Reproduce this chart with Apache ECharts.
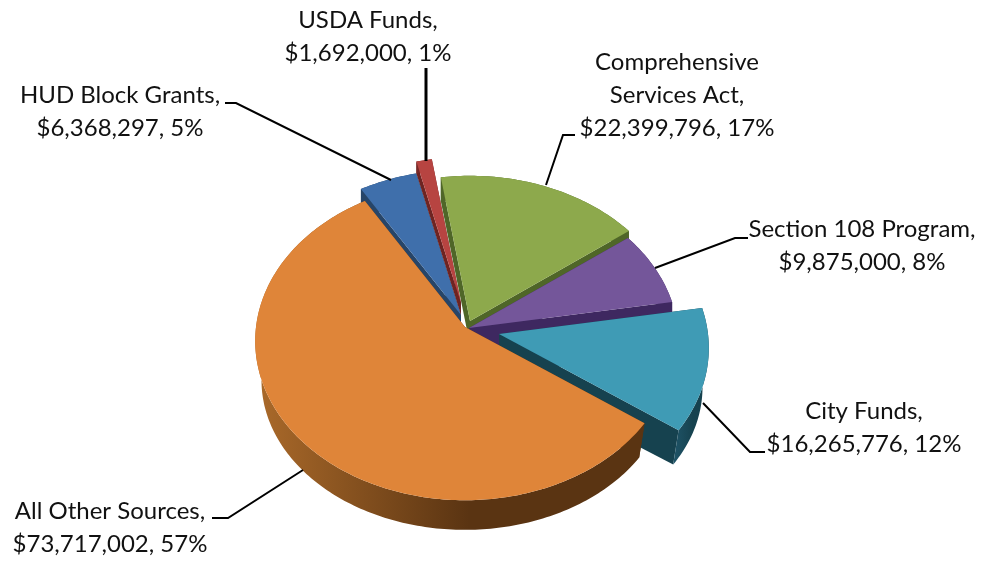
<!DOCTYPE html>
<html><head><meta charset="utf-8">
<script src="https://cdn.jsdelivr.net/npm/echarts@6/dist/echarts.min.js"></script>
<style>html,body{margin:0;padding:0;background:#fff}#c{width:984px;height:561px}</style>
</head><body><div id="c"></div>
<script>
// Data (clockwise from the 12 o'clock-ish start)
const names = ['USDA Funds','Comprehensive Services Act','Section 108 Program','City Funds','All Other Sources','HUD Block Grants'];
const amounts = [1692000,22399796,9875000,16265776,73717002,6368297];
const percents = [1,17,8,12,57,5];
const labelBreaks = [
  'USDA Funds,\n$1,692,000, 1%',
  'Comprehensive\nServices Act,\n$22,399,796, 17%',
  'Section 108 Program,\n$9,875,000, 8%',
  'City Funds,\n$16,265,776, 12%',
  'All Other Sources,\n$73,717,002, 57%',
  'HUD Block Grants,\n$6,368,297, 5%'
];

// Layout and style
const topColors = ['#B74441','#8DA94C','#74569A','#3F9BB5','#DF8539','#3F6FAB'];
const sideColors = [['#7a2a28','#6e2422'],['#4f6628','#4f6628'],['#3e2860','#3e2860'],['#1f5468','#16424f'],['#ab6a2a','#5a3412'],['#274568','#274568']];
const explode = [[-4,-24],[5,-6],[4,1],[34,7],[0,0],[-4,-12]];
const sideDepth = [12,24,32,40,40,30];
const sideScale = [[1,1],[1,1],[1,1],[0.97,0.94],[0.97,0.94],[1,1]];
const paintOrder = [5,0,1,2,3,4].reduce((m,s,i)=>{m[s]=i;return m;},{});
const labelPos = [[368,37],[677,95],[862,246],[864,428],[110,528],[120,112]];
const leaders = [
  [[426,68],[426,161]],
  [[575,135],[563,135],[546,185]],
  [[748,238],[735,238],[655,268]],
  [[765,452],[750,452],[703,403]],
  [[212,518],[228,518],[303,470]],
  [[225,103],[236,103],[391,180]]
];
const leaderWidth = [3,2,2,2,2,2];
const cx = 465, cy = 327, Rx = 209, Ry = 158, persp = 0.088, startDeg = -103.4;

const total = amounts.reduce((a,b)=>a+b,0);
function project(deg, off){
  const a = deg*Math.PI/180, u = Math.cos(a), v = Math.sin(a), w = 1 - persp*v;
  return [cx + off[0] + Rx*u/w, cy + off[1] + Ry*v/w];
}
function renderItem(params, api){
  const i = api.value(0), val = api.value(1);
  let before = 0;
  for (let k=0;k<i;k++) before += amounts[k];
  const a0 = startDeg + before/total*360, a1 = a0 + val/total*360;
  const off = explode[i], rim = [];
  for (let d=a0; d<a1; d+=1) rim.push(project(d,off));
  rim.push(project(a1,off));
  const tip = [cx+off[0], cy+off[1]];
  const s = sideScale[i], dep = sideDepth[i];
  const down = p => [tip[0]+(p[0]-tip[0])*s[0], tip[1]+dep+(p[1]-tip[1])*s[1]];
  const z = paintOrder[i]*10;
  const c = sideColors[i];
  const sideFill = new echarts.graphic.LinearGradient(0,0,1,0,[{offset:0,color:c[0]},{offset:0.55,color:c[1]},{offset:1,color:c[1]}]);
  const kids = [
    {type:'polygon',z2:z,shape:{points:[tip,rim[0],down(rim[0]),down(tip)]},style:{fill:c[1]}},
    {type:'polygon',z2:z,shape:{points:[tip,rim[rim.length-1],down(rim[rim.length-1]),down(tip)]},style:{fill:c[1]}},
    {type:'polygon',z2:z+1,shape:{points:rim.concat(rim.slice().reverse().map(down))},style:{fill:sideFill}},
    {type:'polygon',z2:z+2,shape:{points:[tip].concat(rim)},style:{fill:topColors[i]}},
    {type:'polyline',z2:z+3+(i===0||i===5?100:0),shape:{points:leaders[i]},style:{stroke:'#000',lineWidth:leaderWidth[i],fill:null}},
    {type:'text',z2:200,x:labelPos[i][0],y:labelPos[i][1],style:{text:labelBreaks[i],font:'24px Lato',fill:'#111',align:'center',verticalAlign:'middle',lineHeight:33}}
  ];
  return {type:'group',children:kids};
}
const chart = echarts.init(document.getElementById('c'),null,{renderer:'canvas'});
chart.setOption({
  animation:false,
  backgroundColor:'#fff',
  series:[{type:'custom',coordinateSystem:'none',silent:true,renderItem,
    data:amounts.map((v,i)=>[i,v,percents[i]])}]
});
</script></body></html>
